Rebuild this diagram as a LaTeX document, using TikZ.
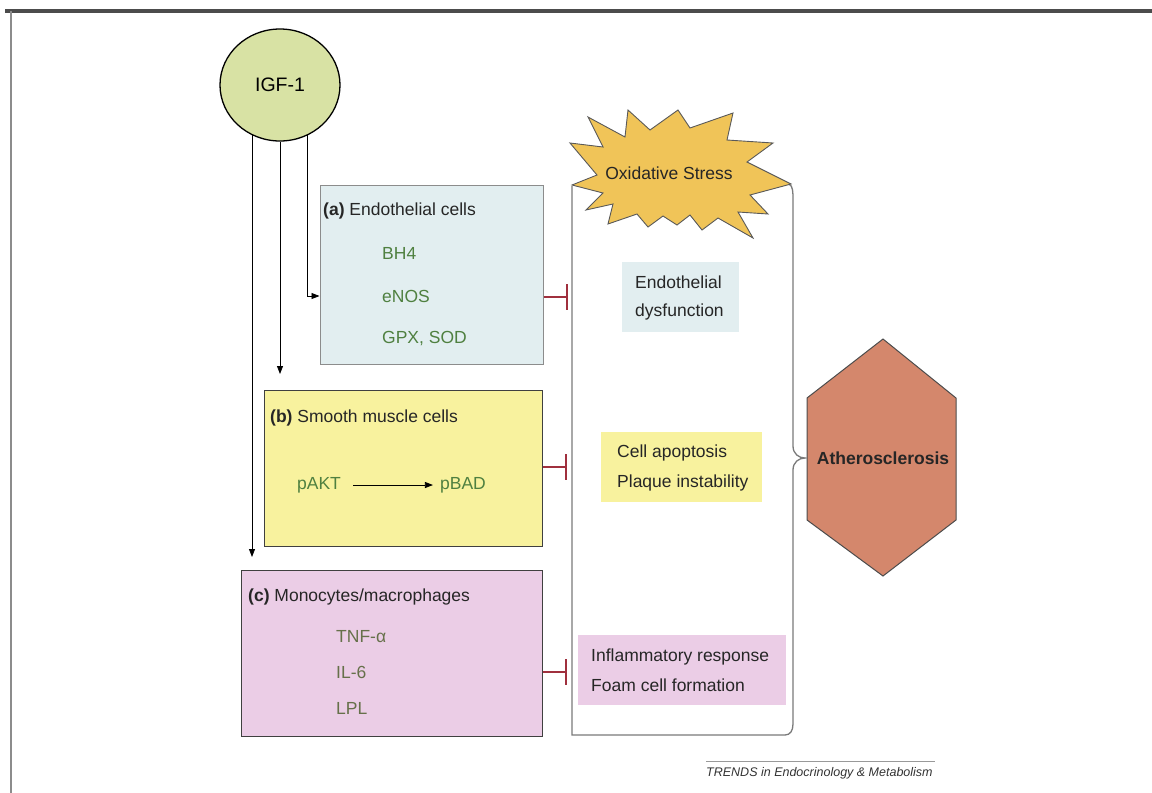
\documentclass[tikz,border=0pt]{standalone}
\usepackage{fontspec}
\setmainfont{Liberation Sans}
\usetikzlibrary{arrows.meta,backgrounds,calc,shapes.geometric}
\definecolor{igffill}{HTML}{D8E2A4}
\definecolor{afill}{HTML}{E2EEF0}
\definecolor{bfill}{HTML}{F8F29E}
\definecolor{cfill}{HTML}{EBCDE6}
\definecolor{gtext}{HTML}{4F8040}
\definecolor{ctext}{HTML}{66704A}
\definecolor{inhib}{HTML}{A0303E}
\definecolor{starfill}{HTML}{F0C458}
\definecolor{hexfill}{HTML}{D4876C}
\definecolor{framegray}{HTML}{7A7A7A}
\begin{document}
\begin{tikzpicture}[x=1pt,y=-1pt,
  txt/.style={font=\fontsize{17.5}{20}\selectfont, inner sep=0pt, anchor=west, text=black!85},
  gtxt/.style={txt, text=gtext},
  ctxt/.style={txt, text=ctext},
  cellbox/.style={draw=black!75, line width=1pt, inner sep=0pt},
  effbox/.style={inner sep=0pt},
  arr/.style={-{Triangle[length=8pt,width=6pt]}, line width=0.8pt},
  inh/.style={-{Bar[width=26pt,line width=1.6pt]}, draw=inhib, line width=1.6pt, shorten >=-0.8pt}
]
\useasboundingbox (0,0) rectangle (1152,793);
% page frame
\draw[line width=3.5pt, draw=black!70] (5,11) -- (1152,11);
\draw[line width=2pt, draw=black!45] (10.5,11) -- (10.5,793);

% IGF-1
\node[draw=black, line width=1.3pt, fill=igffill, ellipse, minimum width=120pt, minimum height=112pt, inner sep=0pt,
      font=\fontsize{19.5}{22}\selectfont] (igf) at (280,85) {IGF-1};

% cell boxes
\node[cellbox, draw=black!45, fill=afill, minimum width=223pt, minimum height=179pt] (boxa) at (431.5,274.5) {};
\node[cellbox, fill=bfill, minimum width=278pt, minimum height=156pt] (boxb) at (403,468) {};
\node[cellbox, fill=cfill, minimum width=301pt, minimum height=166pt] (boxc) at (391.5,653) {};

% box (a) text
\node[txt] (ta) at (323,211) {\textbf{(a)} Endothelial cells};
\node[gtxt] (bh4) at (382,253) {BH4};
\node[gtxt] (enos) at (382,296) {eNOS};
\node[gtxt] (gpx) at (382,339) {GPX, SOD};

% box (b) text
\node[txt] (tb) at (270,418) {\textbf{(b)} Smooth muscle cells};
\node[gtxt, anchor=center] (pakt) at (319,485) {pAKT};
\node[gtxt, anchor=center] (pbad) at (463,485) {pBAD};
\draw[arr] ([xshift=12pt]pakt.east) -- ([xshift=-7pt]pbad.west);

% box (c) text
\node[txt] (tc) at (248,597) {\textbf{(c)} Monocytes/macrophages};
\node[ctxt] (tnf) at (336,637) {TNF-α};
\node[ctxt] (il6) at (336,672) {IL-6};
\node[ctxt] (lpl) at (336,708) {LPL};

% frame / brace
\draw[draw=framegray, line width=1.3pt]
  (789,184) .. controls (793,186) and (793,192) .. (793,200) -- (793,446)
  .. controls (793,454) and (799,458) .. (805,458)
  .. controls (799,458) and (793,462) .. (793,470) -- (793,724)
  .. controls (793,731) and (790,735) .. (785,735) -- (572,735) -- (572,186);

% oxidative stress starburst
\filldraw[fill=starfill, draw=black!65, line width=0.9pt, line join=miter]
  (572,185) -- (597,175) -- (570,143) -- (603,147) -- (588,117) -- (625,137)
  -- (628,110) -- (650,130) -- (678,110) -- (690,128) -- (733,113) -- (727,140)
  -- (773,143) -- (747,162) -- (791,184) -- (750,195) -- (768,214) -- (738,212)
  -- (753,238) -- (718,218) -- (702,230) -- (690,215) -- (677,225) -- (663,216)
  -- (648,227) -- (637,214) -- (608,224) -- (613,204) -- (586,210) -- (603,193) -- cycle;
\node[font=\fontsize{17.5}{20}\selectfont, text=black!85, inner sep=0pt] (ox) at (669,173) {Oxidative Stress};

% effect boxes
\node[effbox, fill=afill, minimum width=117pt, minimum height=70pt] (ed) at (680.5,297) {};
\node[txt] (ed1) at (635,282) {Endothelial};
\node[txt] (ed2) at (635,312) {dysfunction};
\node[effbox, fill=bfill, minimum width=161pt, minimum height=70pt] (ca) at (681.5,467) {};
\node[txt] (ca1) at (617,453) {Cell apoptosis};
\node[txt] (ca2) at (617,483) {Plaque instability};
\node[effbox, fill=cfill, minimum width=208pt, minimum height=70pt] (inf) at (682,670) {};
\node[txt] (inf1) at (591,657) {Inflammatory response};
\node[txt] (inf2) at (591,685) {Foam cell formation};

% atherosclerosis hexagon
\filldraw[fill=hexfill, draw=black!70, line width=1pt]
  (883,339) -- (956,398) -- (956,520) -- (883,576) -- (807,520) -- (807,398) -- cycle;
\node[font=\bfseries\fontsize{17.5}{20}\selectfont, text=black!85, inner sep=0pt] (ath) at (883,458) {Atherosclerosis};

% arrows from IGF-1
\coordinate (ea) at (boxa.west |- enos);
\coordinate (eb) at (280,374);
\coordinate (ec) at (252,557);
\begin{scope}[on background layer]
\draw[arr] ([xshift=27pt]igf.center) |- (ea);
\draw[arr] (igf.center |- igf.south) -- (eb);
\draw[arr] ([xshift=-28pt]igf.center) -- (ec);
\end{scope}

% inhibitions
\coordinate (ia) at (567,297);
\coordinate (ib) at (566,467);
\coordinate (ic) at (566,672);
\draw[inh] (boxa.east |- ia) -- (ia);
\draw[inh] (boxb.east |- ib) -- (ib);
\draw[inh] (boxc.east |- ic) -- (ic);

% credit
\draw[line width=1pt, draw=black!40] (706,761) -- (935,761);
\node[font=\itshape\fontsize{12.5}{14}\selectfont, text=black!80, inner sep=0pt, anchor=west] (cred) at (706,773) {TRENDS in Endocrinology \& Metabolism};
\end{tikzpicture}
\end{document}
